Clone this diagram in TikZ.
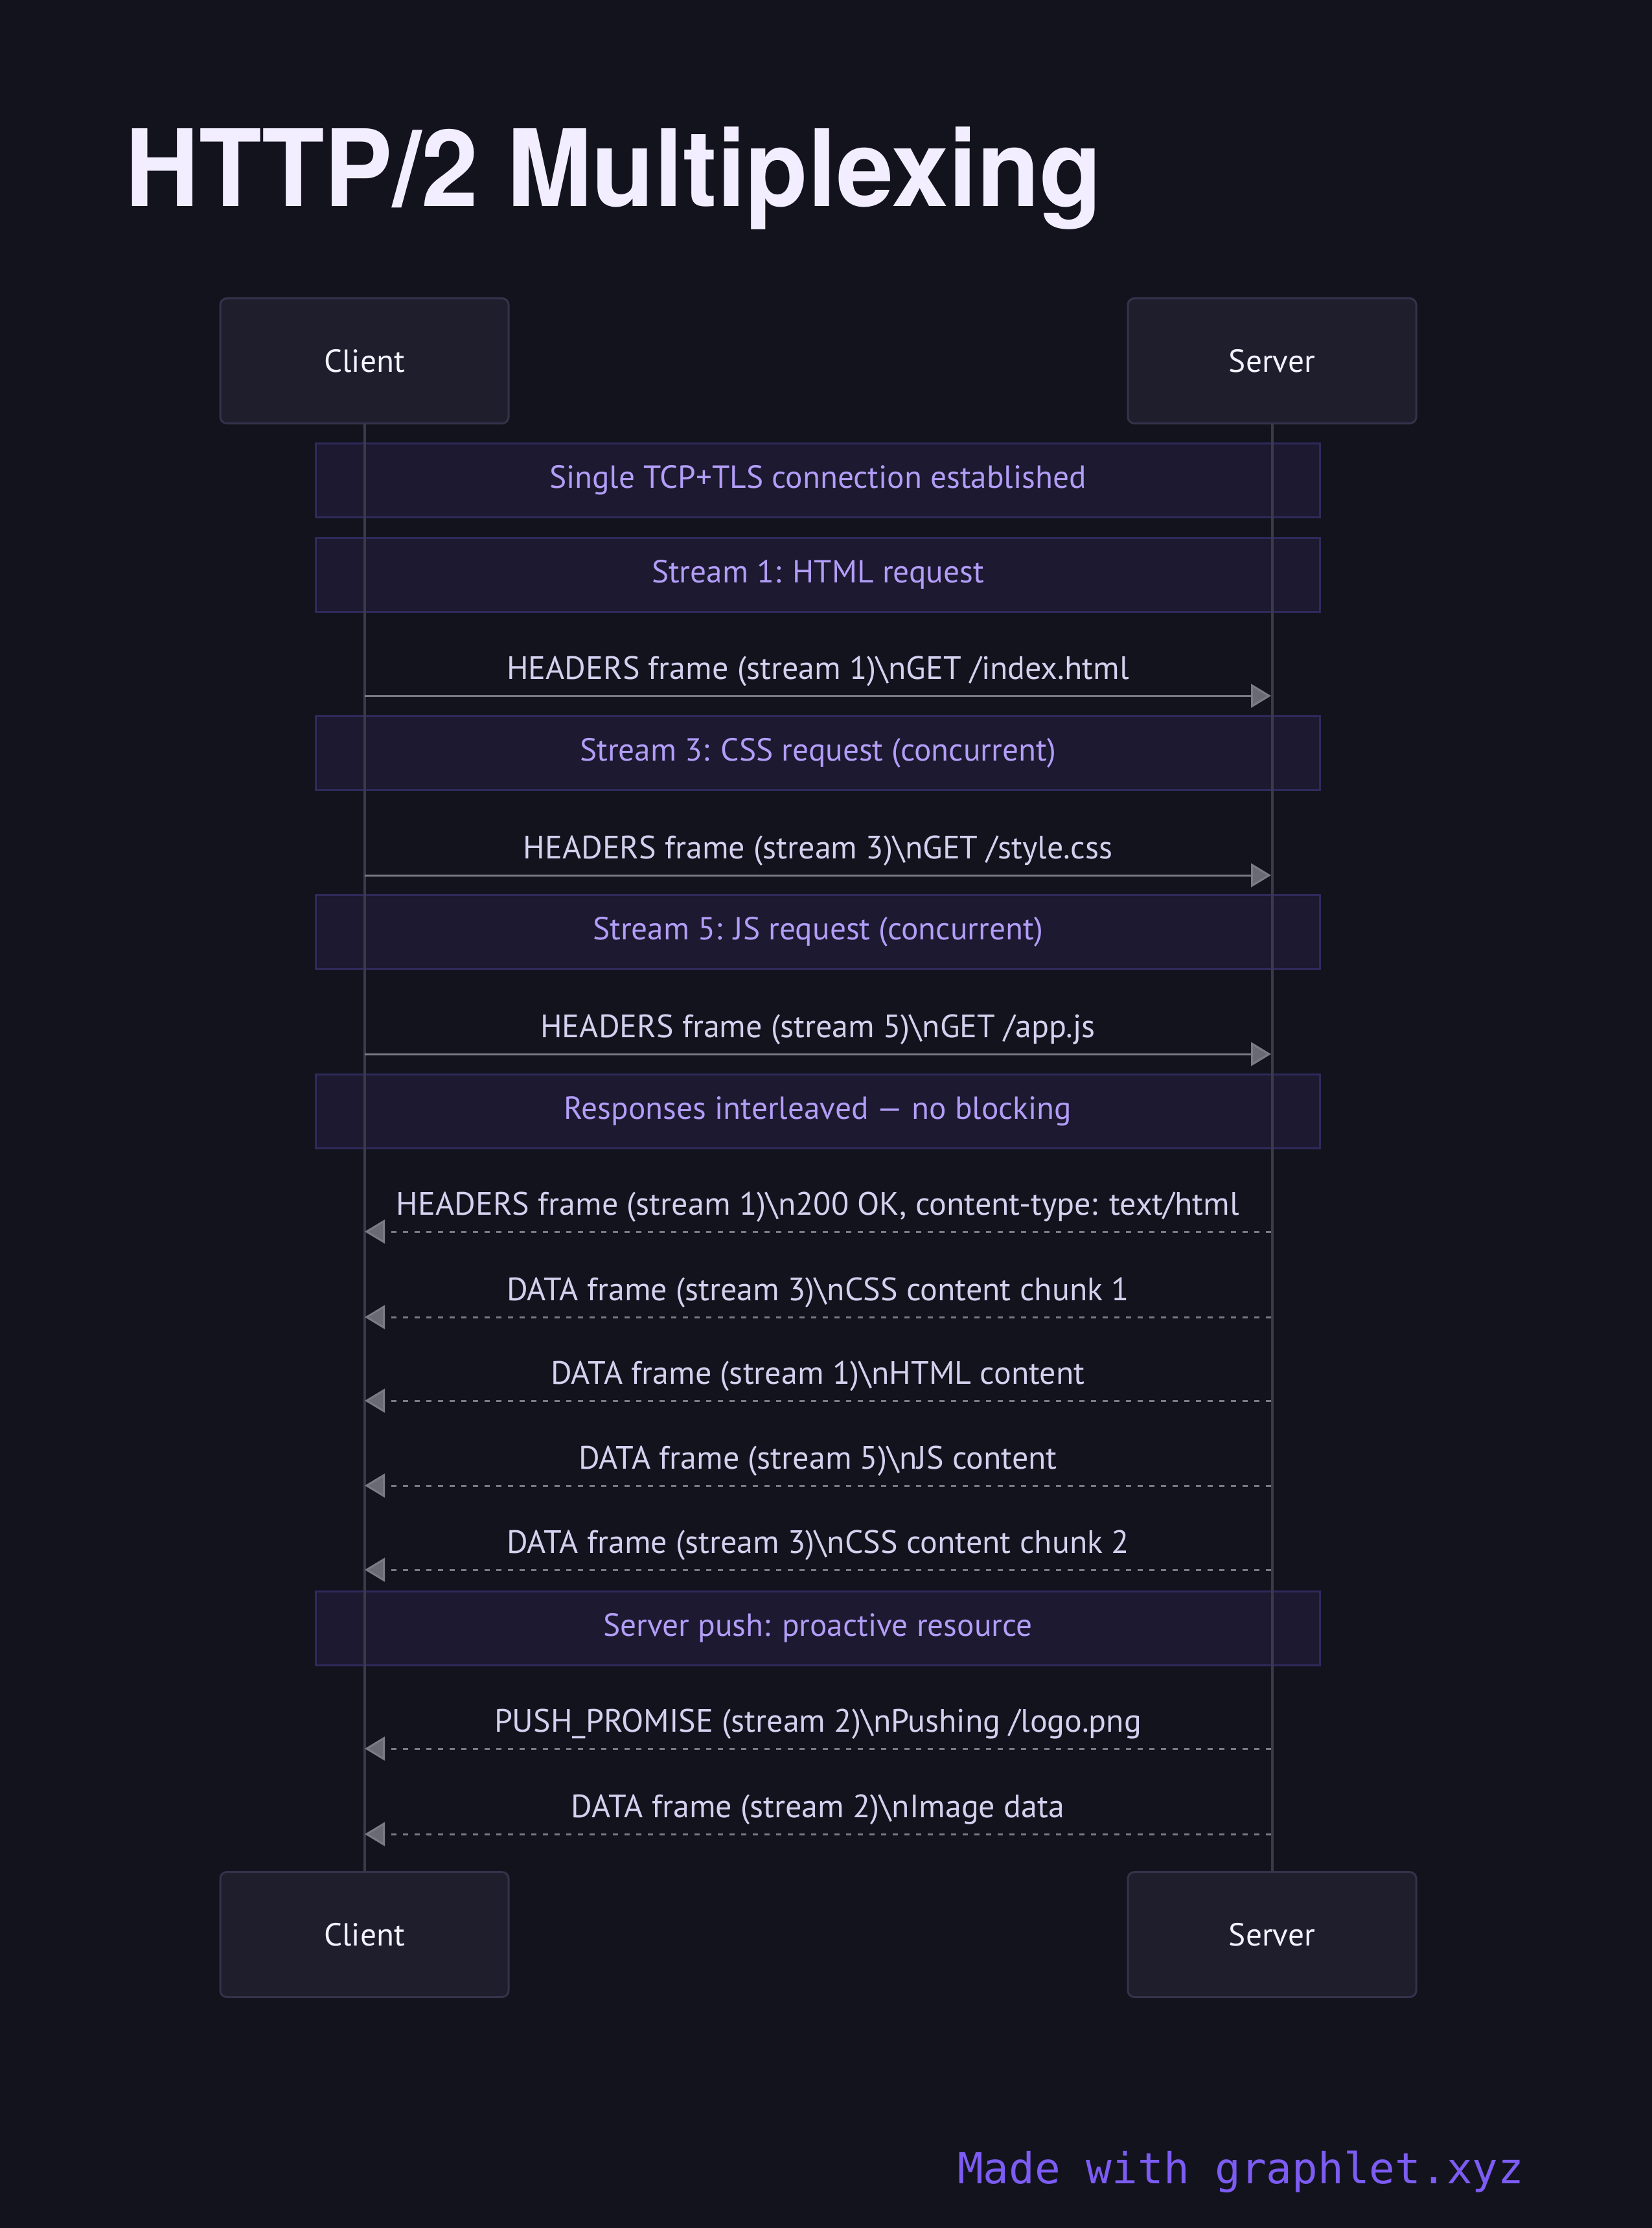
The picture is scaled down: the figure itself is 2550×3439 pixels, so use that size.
\documentclass[tikz,border=0pt]{standalone}
\usepackage{fontspec}
\setmainfont{PT Sans}
\newfontfamily\titlefont{TeX Gyre Heros}
\newfontfamily\footfont{DejaVu Sans Mono}
\usetikzlibrary{arrows.meta}
\definecolor{bg}{HTML}{13131E}
\definecolor{boxfill}{HTML}{1E1E2D}
\definecolor{boxline}{HTML}{33334A}
\definecolor{lifecol}{HTML}{3A3A4A}
\definecolor{notefill}{HTML}{1C1930}
\definecolor{noteline}{HTML}{2F2A5C}
\definecolor{notetext}{HTML}{B29DF7}
\definecolor{msgtext}{HTML}{D4D0EE}
\definecolor{msgline}{HTML}{7B7B85}
\definecolor{headfill}{HTML}{6A6A74}
\definecolor{titlecol}{HTML}{F2EEFF}
\definecolor{footcol}{HTML}{7C5CF2}
\definecolor{actortext}{HTML}{F4F2FF}
\tikzset{
  actor/.style={draw=boxline, fill=boxfill, line width=0.9pt, rounded corners=3pt,
    minimum width=133.5pt, minimum height=57.9pt, text=actortext,
    font=\fontsize{14.8}{17}\selectfont, inner sep=0pt},
  notebox/.style={draw=noteline, fill=notefill, line width=0.9pt,
    minimum width=465pt, minimum height=34.2pt, text=notetext,
    font=\fontsize{14.8}{17}\selectfont, inner sep=0pt},
  lifeline/.style={draw=lifecol, line width=1.2pt},
  msgtip/.style={-{Triangle[length=9.3pt,width=11pt,fill=headfill]}},
  reqmsg/.style={draw=msgline, line width=0.9pt, msgtip},
  repmsg/.style={draw=msgline, line width=0.9pt, msgtip, dash pattern=on 2.4pt off 3pt},
  msglabel/.style={pos=0.5, yshift=11.4pt, text=msgtext, font=\fontsize{15}{17}\selectfont, inner sep=0pt}
}
\begin{document}
\begin{tikzpicture}[x=0.3pt, y=-0.3pt]
\useasboundingbox (0,0) rectangle (2550,3439);
\fill[bg] (0,0) rectangle (2550,3439);

% title
\node[anchor=base west, inner sep=0pt, xscale=0.96, text=titlecol, font=\titlefont\bfseries\fontsize{49.4}{58}\selectfont] (title) at (193,318) {HTTP/2 Multiplexing};

% notes
\node[notebox] (n1) at (1262.5,741) {Single TCP+TLS connection established};
\node[notebox] (n2) at (1262.5,887) {Stream 1: HTML request};
\node[notebox] (n3) at (1262.5,1162) {Stream 3: CSS request (concurrent)};
\node[notebox] (n4) at (1262.5,1438) {Stream 5: JS request (concurrent)};
\node[notebox] (n5) at (1262.5,1715) {Responses interleaved — no blocking};
\node[notebox] (n6) at (1262.5,2513) {Server push: proactive resource};

% participants
\node[actor] (cT) at (562.5,557) {Client};
\node[actor] (sT) at (1963.5,557) {Server};
\node[actor] (cB) at (562.5,2986) {Client};
\node[actor] (sB) at (1963.5,2986) {Server};

% lifelines
\draw[lifeline] (cT.south) -- (cB.north);
\draw[lifeline] (sT.south) -- (sB.north);

% message anchor points
\foreach \i/\y in {1/1074,2/1351,3/1627,4/1901,5/2033,6/2162,7/2293,8/2423,9/2699,10/2831}{
  \coordinate (c\i) at (563,\y);
  \coordinate (s\i) at (1962,\y);
}

\draw[reqmsg] (c1) -- (s1) node[msglabel] {HEADERS frame (stream 1)\textbackslash nGET /index.html};
\draw[reqmsg] (c2) -- (s2) node[msglabel] {HEADERS frame (stream 3)\textbackslash nGET /style.css};
\draw[reqmsg] (c3) -- (s3) node[msglabel] {HEADERS frame (stream 5)\textbackslash nGET /app.js};
\draw[repmsg] (s4) -- (c4) node[msglabel] {HEADERS frame (stream 1)\textbackslash n200 OK, content-type: text/html};
\draw[repmsg] (s5) -- (c5) node[msglabel] {DATA frame (stream 3)\textbackslash nCSS content chunk 1};
\draw[repmsg] (s6) -- (c6) node[msglabel] {DATA frame (stream 1)\textbackslash nHTML content};
\draw[repmsg] (s7) -- (c7) node[msglabel] {DATA frame (stream 5)\textbackslash nJS content};
\draw[repmsg] (s8) -- (c8) node[msglabel] {DATA frame (stream 3)\textbackslash nCSS content chunk 2};
\draw[repmsg] (s9) -- (c9) node[msglabel] {PUSH\_PROMISE (stream 2)\textbackslash nPushing /logo.png};
\draw[repmsg] (s10) -- (c10) node[msglabel] {DATA frame (stream 2)\textbackslash nImage data};

% footer
\node[anchor=base east, inner sep=0pt, text=footcol, font=\footfont\fontsize{19.8}{24}\selectfont] (foot) at (2353,3370) {Made with graphlet.xyz};
\end{tikzpicture}
\end{document}
